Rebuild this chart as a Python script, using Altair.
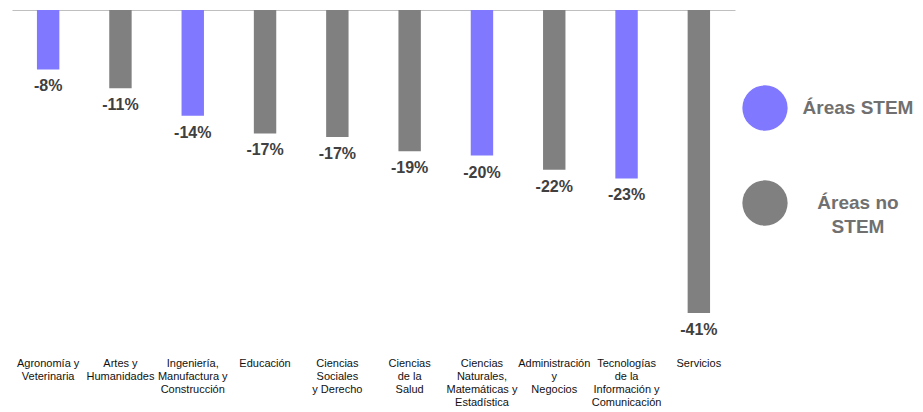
import altair as alt
import pandas as pd

categorias = [
    "Agronomía y\nVeterinaria",
    "Artes y\nHumanidades",
    "Ingeniería,\nManufactura y\nConstrucción",
    "Educación",
    "Ciencias\nSociales\ny Derecho",
    "Ciencias\nde la\nSalud",
    "Ciencias\nNaturales,\nMatemáticas y\nEstadística",
    "Administración\ny\nNegocios",
    "Tecnologías\nde la\nInformación  y\nComunicación",
    "Servicios",
]
variacion = [-0.0805, -0.106, -0.143, -0.167, -0.172, -0.191, -0.197, -0.216, -0.228, -0.41]
grupo = [
    "Áreas STEM", "Áreas no\nSTEM", "Áreas STEM", "Áreas no\nSTEM", "Áreas no\nSTEM",
    "Áreas no\nSTEM", "Áreas STEM", "Áreas no\nSTEM", "Áreas STEM", "Áreas no\nSTEM",
]
grupos = ["Áreas STEM", "Áreas no\nSTEM"]
colores = ["#8078FF", "#808080"]

df = pd.DataFrame({"cat": categorias, "val": variacion, "grupo": grupo})
df_leg = pd.DataFrame({"grupo": grupos})

FONT = "Liberation Sans"
color_scale = alt.Scale(domain=grupos, range=colores)

x = alt.X(
    "cat:N",
    sort=None,
    scale=alt.Scale(paddingInner=0.69, paddingOuter=0.345),
    axis=alt.Axis(
        title=None, ticks=False, labels=False, orient="top",
        domain=True, domainColor="#BFBFBF", domainWidth=1,
    ),
)
y = alt.Y("val:Q", scale=alt.Scale(domain=[-0.41, 0], nice=False, zero=True), axis=None)

bars = alt.Chart(df).mark_bar().encode(
    x=x,
    y=y,
    color=alt.Color("grupo:N", scale=color_scale, legend=None),
)

labels = alt.Chart(df).transform_calculate(
    lbl="replace(format(datum.val, '.0%'), '−', '-')"
).mark_text(
    baseline="middle", dy=17, fontWeight="bold", fontSize=16, color="#404040", font=FONT
).encode(x=x, y=y, text="lbl:N")

cat_labels = alt.Chart(df).mark_text(
    lineBreak="\n", baseline="top", align="center", lineHeight=13,
    font=FONT, fontSize=11, color="#111111",
).encode(x=x, y=alt.value(348), text="cat:N")

main = alt.layer(bars, labels, cat_labels).properties(width=723, height=303)

ly = alt.Y(
    "grupo:N", sort=None,
    scale=alt.Scale(type="point", domain=grupos, range=[98, 193], padding=0),
    axis=None,
)
leg_dots = alt.Chart(df_leg).mark_circle(size=2050, opacity=1).encode(
    y=ly, x=alt.value(30), color=alt.Color("grupo:N", scale=color_scale, legend=None)
)
leg_text = alt.Chart(df_leg).mark_text(
    lineBreak="\n", align="center", baseline="middle", lineHeight=24,
    font=FONT, fontSize=19, fontWeight="bold", color="#707070",
).encode(y=ly, x=alt.value(123), text="grupo:N")
legend = alt.layer(leg_dots, leg_text).properties(width=176, height=303)

chart = (
    alt.hconcat(main, legend, spacing=0)
    .properties(
        padding={"left": 4, "top": 2, "right": 0, "bottom": 0},
        background="white",
    )
    .configure_view(stroke=None)
)

chart.save("out.html", embed_options={"renderer": "svg", "actions": False})
